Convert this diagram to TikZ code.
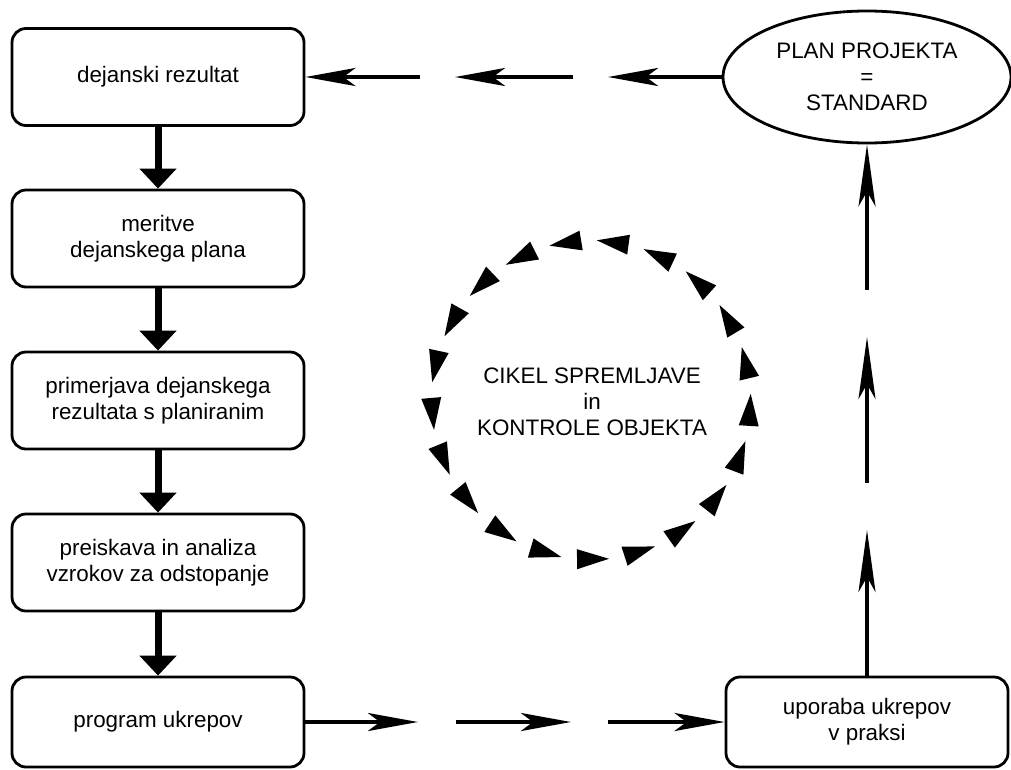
\documentclass[tikz,border=0pt]{standalone}
\usepackage{fontspec}
\setmainfont{Liberation Sans}
\usetikzlibrary{arrows.meta,shapes.geometric}
\begin{document}
\begin{tikzpicture}[x=1pt,y=-1pt,
  every node/.style={font=\fontsize{22.4}{26}\selectfont, align=center, inner sep=0pt},
  stepbox/.style={draw, line width=2.8pt, rounded corners=14pt, minimum width=292pt, minimum height=97pt},
  goalshape/.style={ellipse, draw, line width=2.8pt, minimum width=288pt, minimum height=132pt},
  flowdown/.style={line width=7pt, -{Triangle[length=20pt,width=36pt]}},
  dasharrow/.style={line width=4.3pt, -{Stealth[length=50pt,width=18pt,inset=12pt]}},
  uparrow/.style={line width=4.5pt, -{Stealth[length=62pt,width=17pt,inset=15pt]}}
]
\fill[white] (0,0) rectangle (1011,769);
\useasboundingbox (0,0) rectangle (1011,769);

% left column of process steps
\node[stepbox] (b1) at (158,77) {dejanski rezultat};
\node[stepbox] (b2) at (158,238.5) {meritve\\dejanskega plana};
\node[stepbox] (b3) at (158,400.5) {primerjava dejanskega\\rezultata s planiranim};
\node[stepbox] (b4) at (158,562.5) {preiskava in analiza\\vzrokov za odstopanje};
\node[stepbox, minimum height=90pt] (b5) at (158,722) {program ukrepov};

% right side
\node[stepbox, minimum width=282pt, minimum height=90pt] (b6) at (867,722) {uporaba ukrepov\\v praksi};
\node[goalshape] (plan) at (867,77) {PLAN PROJEKTA\\=\\STANDARD};

% centre label
\node (cyc) at (592,402) {\fontsize{22.4}{27.5}\selectfont CIKEL SPREMLJAVE\\in\\KONTROLE OBJEKTA};

% thick arrows down the left column
\draw[flowdown] (b1.south) -- (b2.north);
\draw[flowdown] (b2.south) -- (b3.north);
\draw[flowdown] (b3.south) -- (b4.north);
\draw[flowdown] (b4.south) -- (b5.north);

% broken arrow from the plan back to the result
\coordinate (t1) at (608,77);
\coordinate (t2) at (573,77);
\coordinate (t3) at (455,77);
\coordinate (t4) at (420,77);
\draw[dasharrow] (plan.west) -- (t1);
\draw[dasharrow] (t2) -- (t3);
\draw[dasharrow] (t4) -- (b1.east);

% broken arrow from the programme to its use
\coordinate (r1) at (418,722);
\coordinate (r2) at (456,722);
\coordinate (r3) at (571,722);
\coordinate (r4) at (608,722);
\draw[dasharrow] (b5.east) -- (r1);
\draw[dasharrow] (r2) -- (r3);
\draw[dasharrow] (r4) -- (b6.west);

% broken arrow up to the plan
\coordinate (u1) at (867,530);
\coordinate (u2) at (867,483);
\coordinate (u3) at (867,337);
\coordinate (u4) at (867,290);
\draw[uparrow] (b6.north) -- (u1);
\draw[uparrow] (u2) -- (u3);
\draw[uparrow] (u4) -- (plan.south);

% ring of triangles running counter-clockwise
\begin{scope}[shift={(591,400)}, y=1pt]
  \foreach \k in {0,...,20}{
    \fill[rotate={99.3-\k*360/21}] (159,16) -- (149,-16) -- (169,-16) -- cycle;
  }
\end{scope}
\end{tikzpicture}
\end{document}
